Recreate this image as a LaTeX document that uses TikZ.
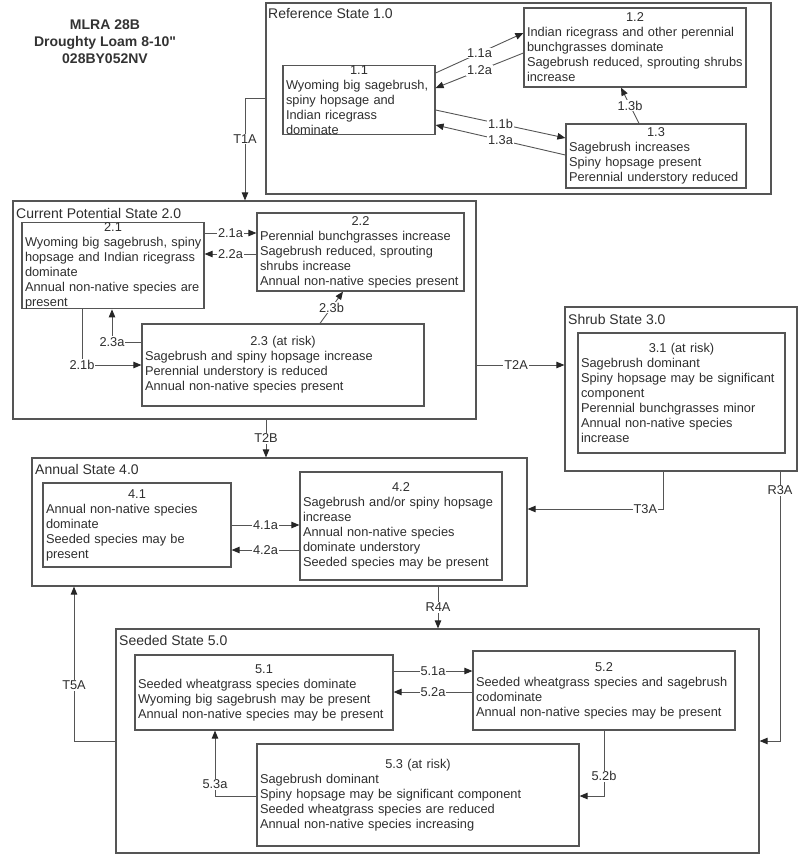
\documentclass[tikz,border=0pt]{standalone}
\usepackage{fontspec}
\setmainfont{Liberation Sans}[Ligatures=TeXOff]
\usetikzlibrary{arrows.meta}
\definecolor{linec}{HTML}{555555}
\definecolor{textc}{HTML}{2E2E2E}
\newcommand\LL[1]{\mbox{#1}}
\newcommand\BX[2]{\centering #1\par\raggedright #2}
\begin{document}
\begin{tikzpicture}[x=1pt,y=-1pt,
  every node/.style={text=textc},
  stbox/.style={draw=linec, line width=1.2pt, inner xsep=3pt, inner ysep=0pt,
     font=\fontsize{12.8}{15}\selectfont, execute at begin node={\parindent=0pt}},
  cont/.style={draw=linec, line width=1.2pt, inner sep=0pt},
  ctitle/.style={anchor=west, inner sep=0pt, font=\fontsize{14}{16}\selectfont},
  conn/.style={draw=linec, line width=0.9pt},
  arr/.style={conn, -{Triangle[length=8pt,width=6.5pt,color=black!85]}},
  lbl/.style={fill=white, inner sep=1pt, font=\fontsize{12.8}{15}\selectfont}]
\useasboundingbox (0,0) rectangle (800,855);

% title
\node[font=\bfseries\fontsize{14}{17}\selectfont, align=center, text=black!80] (title) at (105,42)
  {MLRA 28B\\Droughty Loam 8-10"\\028BY052NV};

% containers
\node[cont, minimum width=505pt, minimum height=191pt] (ref) at (518.5,98.5) {};
\node[cont, minimum width=463pt, minimum height=218pt] (cur) at (244.5,310) {};
\node[cont, minimum width=232pt, minimum height=164pt] (shrub) at (681,389) {};
\node[cont, minimum width=495pt, minimum height=128pt] (ann) at (279.5,522) {};
\node[cont, minimum width=643pt, minimum height=224pt] (seed) at (437.5,741) {};

\node[ctitle] (reft) at (268,13) {Reference State 1.0};
\node[ctitle] (curt) at (16,213) {Current Potential State 2.0};
\node[ctitle] (shrubt) at (568,319) {Shrub State 3.0};
\node[ctitle] (annt) at (35,469) {Annual State 4.0};
\node[ctitle] (seedt) at (119,640) {Seeded State 5.0};

% community boxes
\node[stbox, minimum width=152pt, minimum height=66pt, text width=146pt] (b11) at (359,100)
  {\BX{1.1}{\LL{Wyoming big sagebrush,}\\\LL{spiny hopsage and}\\\LL{Indian ricegrass}\\\LL{dominate}}};
\node[stbox, minimum width=222pt, minimum height=79pt, text width=216pt] (b12) at (635,47.5)
  {\BX{1.2}{\LL{Indian ricegrass and other perennial}\\\LL{bunchgrasses dominate}\\\LL{Sagebrush reduced, sprouting shrubs}\\\LL{increase}}};
\node[stbox, minimum width=180pt, minimum height=64pt, text width=174pt] (b13) at (656,156)
  {\BX{1.3}{\LL{Sagebrush increases}\\\LL{Spiny hopsage present}\\\LL{Perennial understory reduced}}};

\node[stbox, minimum width=182pt, minimum height=83pt, text width=176pt] (b21) at (113,265.5)
  {\BX{2.1}{\LL{Wyoming big sagebrush, spiny}\\\LL{hopsage and Indian ricegrass}\\\LL{dominate}\\\LL{Annual non-native species are}\\\LL{present}}};
\node[stbox, minimum width=207pt, minimum height=78pt, text width=201pt] (b22) at (360.5,252)
  {\BX{2.2}{\LL{Perennial bunchgrasses increase}\\\LL{Sagebrush reduced, sprouting}\\\LL{shrubs increase}\\\LL{Annual non-native species present}}};
\node[stbox, minimum width=282pt, minimum height=82pt, text width=276pt] (b23) at (283,365)
  {\BX{2.3 (at risk)}{\LL{Sagebrush and spiny hopsage increase}\\\LL{Perennial understory is reduced}\\\LL{Annual non-native species present}}};

\node[stbox, minimum width=207pt, minimum height=120pt, text width=201pt] (b31) at (681.5,393)
  {\BX{3.1 (at risk)}{\LL{Sagebrush dominant}\\\LL{Spiny hopsage may be significant}\\\LL{component}\\\LL{Perennial bunchgrasses minor}\\\LL{Annual non-native species}\\\LL{increase}}};

\node[stbox, minimum width=188pt, minimum height=84pt, text width=182pt] (b41) at (137,525)
  {\BX{4.1}{\LL{Annual non-native species}\\\LL{dominate}\\\LL{Seeded species may be}\\\LL{present}}};
\node[stbox, minimum width=202pt, minimum height=108pt, text width=196pt] (b42) at (401,526)
  {\BX{4.2}{\LL{Sagebrush and/or spiny hopsage}\\\LL{increase}\\\LL{Annual non-native species}\\\LL{dominate understory}\\\LL{Seeded species may be present}}};

\node[stbox, minimum width=258pt, minimum height=75pt, text width=252pt] (b51) at (264,692.5)
  {\BX{5.1}{\LL{Seeded wheatgrass species dominate}\\\LL{Wyoming big sagebrush may be present}\\\LL{Annual non-native species may be present}}};
\node[stbox, minimum width=262pt, minimum height=79pt, text width=256pt] (b52) at (604,690.5)
  {\BX{5.2}{\LL{Seeded wheatgrass species and sagebrush}\\\LL{codominate}\\\LL{Annual non-native species may be present}}};
\node[stbox, minimum width=322pt, minimum height=102pt, text width=316pt] (b53) at (418,795)
  {\BX{5.3 (at risk)}{\LL{Sagebrush dominant}\\\LL{Spiny hopsage may be significant component}\\\LL{Seeded wheatgrass species are reduced}\\\LL{Annual non-native species increasing}}};

% connectors state 1
\draw[arr] (ref.west |- 0,98) -- (245,98) -- node[lbl, pos=0.4]{T1A} (cur.north -| 245,0);
\draw[arr] (b11.east |- 0,73) -- node[lbl]{1.1a} (b12.west |- 0,33);
\draw[arr] (b12.west |- 0,53) -- node[lbl]{1.2a} (b11.east |- 0,88);
\draw[arr] (b11.east |- 0,110) -- node[lbl]{1.1b} (b13.west |- 0,138);
\draw[arr] (b13.west |- 0,155) -- node[lbl]{1.3a} (b11.east |- 0,125);
\draw[arr] (b13.north -| 639,0) -- node[lbl]{1.3b} (b12.south -| 621,0);

% state 2
\draw[arr] (b21.east |- 0,233) -- node[lbl]{2.1a} (b22.west |- 0,233);
\draw[arr] (b22.west |- 0,254) -- node[lbl]{2.2a} (b21.east |- 0,254);
\draw[arr] (b21.south -| 82,0) -- (82,365) node[lbl]{2.1b} -- (b23.west |- 0,365);
\draw[arr] (b23.west |- 0,342) -- (112,342) node[lbl]{2.3a} -- (b21.south -| 112,0);
\draw[arr] (b23.north -| 320,0) -- node[lbl]{2.3b} (b22.south -| 343,0);
\draw[arr] (cur.east |- 0,365) -- node[lbl, pos=0.45]{T2A} (shrub.west |- 0,365);
\draw[arr] (cur.south -| 266,0) -- node[lbl]{T2B} (ann.north -| 266,0);

% state 3
\draw[arr] (shrub.south -| 663,0) -- (663,509) -- node[lbl, pos=0.13]{T3A} (ann.east |- 0,509);
\draw[arr] (shrub.south -| 780,0) -- node[lbl, pos=0.07]{R3A} (780,741) -- (seed.east |- 0,741);

% state 4
\draw[arr] (b41.east |- 0,525) -- node[lbl]{4.1a} (b42.west |- 0,525);
\draw[arr] (b42.west |- 0,550) -- node[lbl]{4.2a} (b41.east |- 0,550);
\draw[arr] (ann.south -| 438,0) -- node[lbl]{R4A} (seed.north -| 438,0);

% state 5
\draw[arr] (seed.west |- 0,741) -- (74,741) -- node[lbl, pos=0.36]{T5A} (ann.south -| 74,0);
\draw[arr] (b51.east |- 0,671) -- node[lbl]{5.1a} (b52.west |- 0,671);
\draw[arr] (b52.west |- 0,692) -- node[lbl]{5.2a} (b51.east |- 0,692);
\draw[arr] (b52.south -| 604,0) -- node[lbl, pos=0.7]{5.2b} (604,796) -- (b53.east |- 0,796);
\draw[arr] (b53.west |- 0,796) -- (215,796) -- node[lbl, pos=0.18]{5.3a} (b51.south -| 215,0);
\end{tikzpicture}
\end{document}
